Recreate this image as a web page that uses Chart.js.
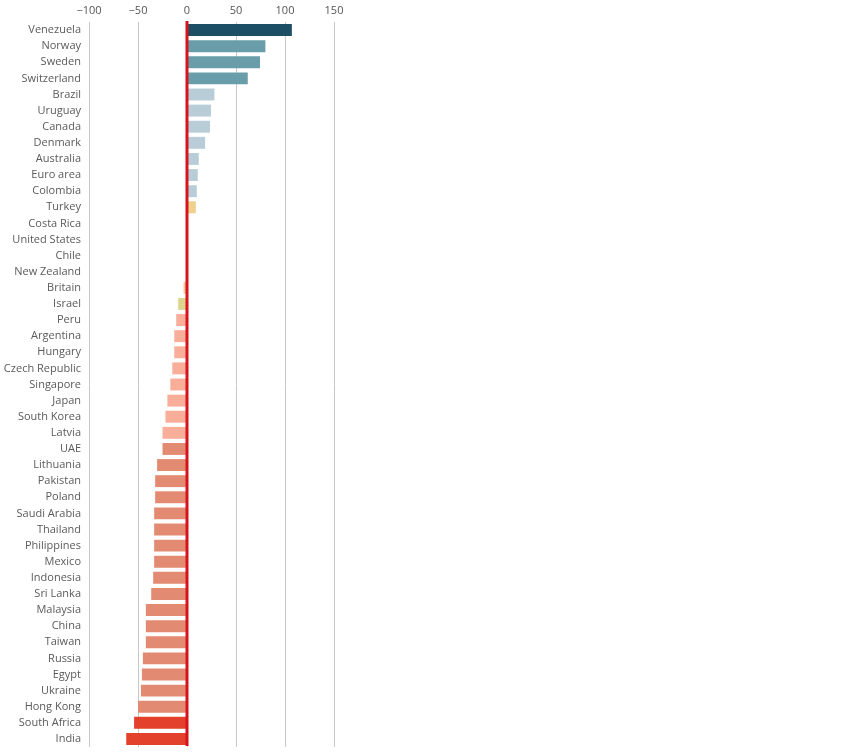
<!DOCTYPE html>
<html>
<head>
<meta charset="utf-8">
<title>Bar chart</title>
<script src="https://cdn.jsdelivr.net/npm/chart.js@4/dist/chart.umd.min.js"></script>
<style>
  html, body { margin: 0; padding: 0; background: #fff; }
  #wrap { width: 864px; height: 752px; }
</style>
</head>
<body>
<div id="wrap"><canvas id="chart" width="864" height="752"></canvas></div>
<script>
const countries = [
  'Venezuela', 'Norway', 'Sweden', 'Switzerland', 'Brazil', 'Uruguay', 'Canada',
  'Denmark', 'Australia', 'Euro area', 'Colombia', 'Turkey', 'Costa Rica',
  'United States', 'Chile', 'New Zealand', 'Britain', 'Israel', 'Peru',
  'Argentina', 'Hungary', 'Czech Republic', 'Singapore', 'Japan', 'South Korea',
  'Latvia', 'UAE', 'Lithuania', 'Pakistan', 'Poland', 'Saudi Arabia', 'Thailand',
  'Philippines', 'Mexico', 'Indonesia', 'Sri Lanka', 'Malaysia', 'China',
  'Taiwan', 'Russia', 'Egypt', 'Ukraine', 'Hong Kong', 'South Africa', 'India'
];

const values = [
  107, 80, 74.5, 62, 28, 24.5, 23.5,
  18.5, 12, 11, 10, 9, 0,
  0, 0, 0, -3.5, -9, -11,
  -13, -13, -15, -17, -20, -22,
  -25, -25, -30.5, -32.5, -32.5, -33.5, -33.5,
  -33.5, -33.5, -34.5, -36.5, -42, -42,
  -42, -45, -46, -47, -50, -54, -62
];

const xTicks = [-100, -50, 0, 50, 100, 150];

const groupColors = {
  top: '#1c4e66',
  high: '#6a9daa',
  mid: '#b9cdd8',
  slight: '#efd08c',
  britain: '#f5c794',
  israel: '#dcd48f',
  low: '#f8ae98',
  lower: '#e38a73',
  lowest: '#e3412b'
};

const groups = [
  'top', 'high', 'high', 'high', 'mid', 'mid', 'mid',
  'mid', 'mid', 'mid', 'mid', 'slight', 'slight',
  'slight', 'slight', 'slight', 'britain', 'israel', 'low',
  'low', 'low', 'low', 'low', 'low', 'low',
  'low', 'lower', 'lower', 'lower', 'lower', 'lower', 'lower',
  'lower', 'lower', 'lower', 'lower', 'lower', 'lower',
  'lower', 'lower', 'lower', 'lower', 'lower', 'lowest', 'lowest'
];

// red line at zero, drawn over the bars
const zeroLine = {
  id: 'zeroLine',
  afterDatasetsDraw(chart) {
    const { ctx, chartArea, scales } = chart;
    const x = scales.x.getPixelForValue(0);
    ctx.save();
    ctx.strokeStyle = '#d7141c';
    ctx.lineWidth = 3;
    ctx.beginPath();
    ctx.moveTo(x, chartArea.top - 1);
    ctx.lineTo(x, chartArea.bottom - 1);
    ctx.stroke();
    ctx.restore();
  }
};

const fontFamily = '"Open Sans", "DejaVu Sans", sans-serif';

new Chart(document.getElementById('chart'), {
  type: 'bar',
  data: {
    labels: countries,
    datasets: [{
      data: values,
      backgroundColor: groups.map(g => groupColors[g]),
      borderWidth: 0,
      barPercentage: 0.74,
      categoryPercentage: 1
    }]
  },
  options: {
    indexAxis: 'y',
    responsive: false,
    animation: false,
    layout: { padding: { top: 0, right: 530, bottom: 5, left: 0 } },
    plugins: {
      legend: { display: false },
      tooltip: { enabled: false }
    },
    scales: {
      x: {
        position: 'top',
        min: -100,
        max: 150,
        afterBuildTicks: (scale) => { scale.ticks = xTicks.map(v => ({ value: v })); },
        afterFit: (scale) => { scale.height = 22; scale.paddingLeft = 0; scale.paddingRight = 0; },
        border: { display: false },
        grid: { color: '#c8c8c8', lineWidth: 1, drawTicks: false },
        ticks: {
          padding: 5,
          color: '#555',
          font: { family: fontFamily, size: 11 },
          callback: (v) => String(v).replace('-', '\u2212')
        }
      },
      y: {
        afterFit: (scale) => { scale.width = 89; scale.paddingTop = 0; scale.paddingBottom = 0; },
        border: { display: false },
        grid: { display: false, drawTicks: false },
        ticks: {
          padding: 8,
          autoSkip: false,
          color: '#5a5a5a',
          font: { family: fontFamily, size: 11 }
        }
      }
    }
  },
  plugins: [zeroLine]
});
</script>
</body>
</html>
